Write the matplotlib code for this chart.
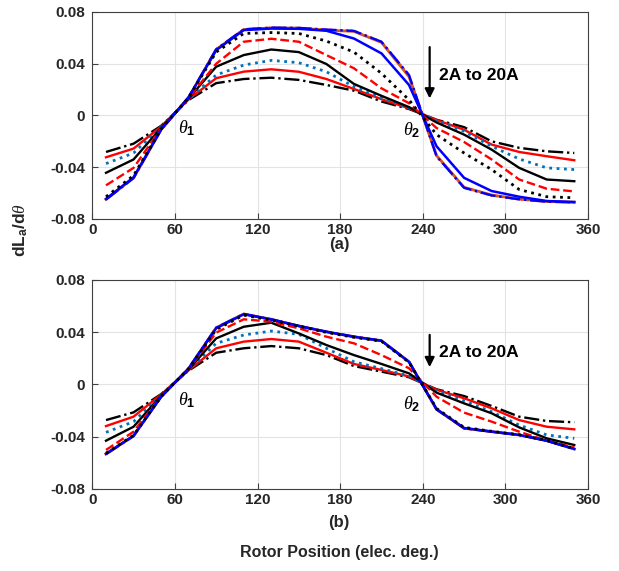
import numpy as np
import matplotlib.pyplot as plt

# rotor position (elec. deg.)
theta = [10, 30, 50, 70, 90, 110, 130, 150, 170, 190, 210, 230, 250, 270, 290, 310, 330, 350]

# (a) dLa/dtheta for 2A ... 20A
a_2A  = [-0.0282, -0.0218, -0.0080, 0.0120, 0.0250, 0.0282, 0.0292, 0.0275, 0.0236, 0.0192, 0.0108, 0.0050, -0.0033, -0.0090, -0.0200, -0.0250, -0.0277, -0.0290]
a_4A  = [-0.0323, -0.0256, -0.0085, 0.0125, 0.0288, 0.0339, 0.0357, 0.0338, 0.0282, 0.0205, 0.0126, 0.0055, -0.0035, -0.0110, -0.0225, -0.0282, -0.0315, -0.0346]
a_6A  = [-0.0372, -0.0290, -0.0090, 0.0128, 0.0313, 0.0390, 0.0426, 0.0408, 0.0338, 0.0223, 0.0134, 0.0060, -0.0040, -0.0123, -0.0238, -0.0336, -0.0405, -0.0418]
a_8A  = [-0.0443, -0.0340, -0.0095, 0.0132, 0.0377, 0.0467, 0.0510, 0.0490, 0.0398, 0.0244, 0.0152, 0.0065, -0.0054, -0.0148, -0.0264, -0.0405, -0.0495, -0.0508]
a_10A = [-0.0540, -0.0405, -0.0100, 0.0135, 0.0400, 0.0570, 0.0593, 0.0570, 0.0467, 0.0365, 0.0210, 0.0095, -0.0097, -0.0205, -0.0340, -0.0495, -0.0566, -0.0587]
a_12A = [-0.0628, -0.0464, -0.0105, 0.0138, 0.0490, 0.0634, 0.0641, 0.0634, 0.0575, 0.0490, 0.0326, 0.0121, -0.0148, -0.0290, -0.0418, -0.0572, -0.0628, -0.0636]
a_14A = [-0.0645, -0.0478, -0.0108, 0.0140, 0.0505, 0.0660, 0.0672, 0.0670, 0.0655, 0.0595, 0.0480, 0.0236, -0.0238, -0.0482, -0.0584, -0.0628, -0.0661, -0.0669]
a_16A = [-0.0648, -0.0482, -0.0110, 0.0140, 0.0510, 0.0664, 0.0677, 0.0675, 0.0660, 0.0650, 0.0565, 0.0300, -0.0310, -0.0555, -0.0615, -0.0646, -0.0665, -0.0670]
a_18A = [-0.0650, -0.0484, -0.0110, 0.0141, 0.0512, 0.0666, 0.0679, 0.0677, 0.0664, 0.0654, 0.0570, 0.0313, -0.0315, -0.0559, -0.0618, -0.0648, -0.0666, -0.0671]
a_20A = [-0.0651, -0.0485, -0.0111, 0.0141, 0.0513, 0.0667, 0.0680, 0.0678, 0.0665, 0.0656, 0.0572, 0.0315, -0.0318, -0.0562, -0.0620, -0.0650, -0.0667, -0.0672]

# (b) dLa/dtheta for 2A ... 20A
b_2A  = [-0.0274, -0.0215, -0.0075, 0.0105, 0.0242, 0.0276, 0.0293, 0.0276, 0.0224, 0.0140, 0.0097, 0.0054, -0.0038, -0.0090, -0.0166, -0.0248, -0.0281, -0.0291]
b_4A  = [-0.0320, -0.0248, -0.0078, 0.0108, 0.0276, 0.0327, 0.0347, 0.0327, 0.0242, 0.0156, 0.0110, 0.0060, -0.0042, -0.0107, -0.0184, -0.0274, -0.0325, -0.0345]
b_6A  = [-0.0368, -0.0286, -0.0082, 0.0111, 0.0314, 0.0378, 0.0408, 0.0383, 0.0276, 0.0173, 0.0120, 0.0064, -0.0051, -0.0126, -0.0210, -0.0312, -0.0388, -0.0414]
b_8A  = [-0.0432, -0.0325, -0.0086, 0.0114, 0.0352, 0.0441, 0.0472, 0.0390, 0.0301, 0.0224, 0.0156, 0.0084, -0.0064, -0.0146, -0.0222, -0.0330, -0.0414, -0.0465]
b_10A = [-0.0503, -0.0363, -0.0090, 0.0117, 0.0396, 0.0498, 0.0480, 0.0429, 0.0365, 0.0314, 0.0224, 0.0123, -0.0095, -0.0217, -0.0286, -0.0363, -0.0432, -0.0483]
b_12A = [-0.0528, -0.0390, -0.0094, 0.0120, 0.0420, 0.0530, 0.0492, 0.0445, 0.0398, 0.0360, 0.0330, 0.0168, -0.0185, -0.0330, -0.0360, -0.0386, -0.0430, -0.0492]
b_14A = [-0.0532, -0.0394, -0.0095, 0.0121, 0.0430, 0.0537, 0.0497, 0.0447, 0.0402, 0.0364, 0.0334, 0.0172, -0.0190, -0.0335, -0.0362, -0.0388, -0.0432, -0.0495]
b_16A = [-0.0534, -0.0396, -0.0096, 0.0122, 0.0434, 0.0539, 0.0498, 0.0447, 0.0403, 0.0365, 0.0334, 0.0173, -0.0192, -0.0337, -0.0363, -0.0388, -0.0432, -0.0496]
b_18A = [-0.0535, -0.0396, -0.0096, 0.0122, 0.0434, 0.0539, 0.0498, 0.0447, 0.0403, 0.0365, 0.0334, 0.0173, -0.0192, -0.0337, -0.0363, -0.0388, -0.0432, -0.0496]
b_20A = [-0.0536, -0.0397, -0.0097, 0.0122, 0.0435, 0.0540, 0.0499, 0.0448, 0.0404, 0.0366, 0.0335, 0.0174, -0.0193, -0.0338, -0.0364, -0.0389, -0.0433, -0.0497]

curves_a = [a_2A, a_4A, a_6A, a_8A, a_10A, a_12A, a_14A, a_16A, a_18A, a_20A]
curves_b = [b_2A, b_4A, b_6A, b_8A, b_10A, b_12A, b_14A, b_16A, b_18A, b_20A]

# line styles, MATLAB look (orange ones sit underneath)
styles = [
    dict(color='k', ls='-.', lw=1.7, zorder=3),
    dict(color='#FF0000', ls='-', lw=1.7, zorder=3),
    dict(color='#0072BD', ls=':', lw=2.0, zorder=3),
    dict(color='k', ls='-', lw=1.7, zorder=3),
    dict(color='#FF0000', ls='--', lw=1.7, zorder=3),
    dict(color='k', ls=':', lw=2.0, zorder=4),
    dict(color='#0000FF', ls='-', lw=1.8, zorder=3.5),
    dict(color='#D95319', ls='-', lw=2.0, zorder=2),
    dict(color='#0000FF', ls='-.', lw=1.7, zorder=3.2),
    dict(color='#D95319', ls=':', lw=1.4, zorder=2.1),
]

plt.rcParams['font.family'] = ['Liberation Sans', 'DejaVu Sans']
plt.rcParams['mathtext.fontset'] = 'custom'
plt.rcParams['mathtext.it'] = 'Liberation Serif:italic'
plt.rcParams['mathtext.rm'] = 'Liberation Sans'
plt.rcParams['mathtext.bf'] = 'Liberation Sans:bold'

fig = plt.figure(figsize=(6.19, 5.71), dpi=100)
ax1 = fig.add_axes([0.149, 0.6165, 0.801, 0.3625])
ax2 = fig.add_axes([0.149, 0.1441, 0.801, 0.3657])

for ax, curves in [(ax1, curves_a), (ax2, curves_b)]:
    for y, st in zip(curves, styles):
        ax.plot(theta, y, **st)
    ax.set_xlim(0, 360)
    ax.set_ylim(-0.08, 0.08)
    ax.set_xticks([0, 60, 120, 180, 240, 300, 360])
    ax.set_yticks([-0.08, -0.04, 0, 0.04, 0.08])
    ax.set_yticklabels(['-0.08', '-0.04', '0', '0.04', '0.08'])
    ax.grid(True, color='#e3e3e3', lw=0.8)
    ax.set_axisbelow(True)
    ax.tick_params(direction='in', length=4, color='#404040', labelsize=11)
    ax.tick_params(axis='x', pad=3)
    ax.tick_params(axis='y', pad=5)
    for lab in ax.get_xticklabels() + ax.get_yticklabels():
        lab.set_fontweight('bold')
        lab.set_color('#262626')
    for s in ax.spines.values():
        s.set_color('#404040')
        s.set_linewidth(0.8)

# theta marks and current arrow
th1 = r'$\theta_{\mathbf{1}}$'
th2 = r'$\theta_{\mathbf{2}}$'
ax1.text(62, -0.010, th1, fontsize=13, ha='left', va='center')
ax1.text(226, -0.011, th2, fontsize=13, ha='left', va='center')
ax1.annotate('', xy=(245, 0.011), xytext=(245, 0.055),
             arrowprops=dict(arrowstyle='-|>', color='k', lw=1.6, mutation_scale=14))
ax1.text(252, 0.031, '2A to 20A', fontsize=12.5, fontweight='bold', va='center')

ax2.text(62, -0.012, th1, fontsize=13, ha='left', va='center')
ax2.text(226, -0.015, th2, fontsize=13, ha='left', va='center')
ax2.annotate('', xy=(245, 0.011), xytext=(245, 0.040),
             arrowprops=dict(arrowstyle='-|>', color='k', lw=1.6, mutation_scale=14))
ax2.text(252, 0.024, '2A to 20A', fontsize=12.5, fontweight='bold', va='center')

fig.text(0.548, 1 - 244 / 571, '(a)', fontsize=12, fontweight='bold', ha='center', va='center', color='#262626')
fig.text(0.548, 1 - 522 / 571, '(b)', fontsize=12, fontweight='bold', ha='center', va='center', color='#262626')
fig.text(0.548, 1 - 553 / 571, 'Rotor Position (elec. deg.)', fontsize=11.5, fontweight='bold',
         ha='center', va='center', color='#262626')
fig.text(0.033, 1 - 230 / 571, r'dL$_\mathbf{a}$/d$\theta$', fontsize=12.5, fontweight='bold',
         rotation=90, ha='center', va='center', color='#262626')

fig.savefig('out.png', dpi=100)
